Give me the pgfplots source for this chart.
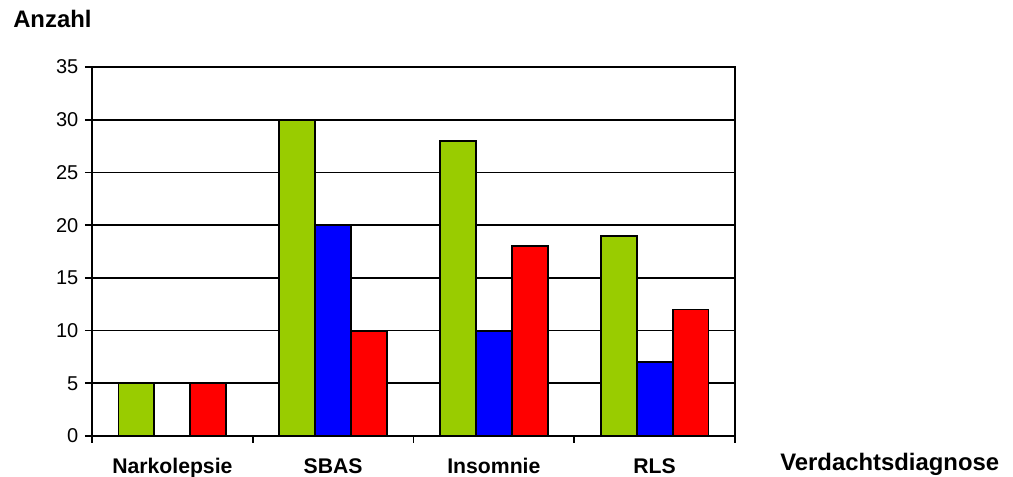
\documentclass[border=0pt]{standalone}
\usepackage{fontspec}
\setmainfont{Liberation Sans}
\usepackage{pgfplots}
\pgfplotsset{compat=1.18}
\definecolor{bgreen}{RGB}{153,204,0}
\definecolor{bblue}{RGB}{0,0,255}
\definecolor{bred}{RGB}{255,0,0}
\begin{document}
\begin{tikzpicture}[x=1pt,y=1pt]
\useasboundingbox (-69,-30.75) rectangle (690.75,327);
\begin{axis}[
  at={(0,0)}, anchor=south west,
  scale only axis, width=482.25pt, height=276.75pt,
  xmin=-0.5, xmax=3.5, ymin=0, ymax=35,
  ybar=0pt, bar width=0.2236,
  xtick={-0.5,0.5,1.5,2.5,3.5},
  xticklabels={Narkolepsie,SBAS,Insomnie,RLS},
  x tick label as interval,
  ytick={0,5,...,35},
  ymajorgrids, grid style={black, line width=1.3pt},
  tick align=outside, tick pos=left,
  major tick length=5.25pt,
  tick style={black, line width=1.3pt},
  axis line style={line width=1.6pt},
  /pgf/number format/assume math mode=true,
  yticklabel style={font=\fontsize{15}{18}\selectfont, xshift=-1.5pt},
  xticklabel style={font=\bfseries\fontsize{15.9}{19}\selectfont, yshift=-8pt},
  every axis plot/.append style={draw=black, line width=1.4pt},
]
\addplot[fill=bgreen] coordinates {(0,5) (1,30) (2,28) (3,19)};
\addplot[fill=bblue] coordinates {(1,20) (2,10) (3,7)};
\addplot[fill=bred] coordinates {(0,5) (1,10) (2,18) (3,12)};
\end{axis}
\node[anchor=base west, inner sep=0, font=\bfseries\fontsize{17.9}{21}\selectfont] at (-59.25,306.5) {Anzahl};
\node[anchor=base west, inner sep=0, font=\bfseries\fontsize{17.9}{21}\selectfont] at (516,-26) {Verdachtsdiagnose};
\end{tikzpicture}
\end{document}
